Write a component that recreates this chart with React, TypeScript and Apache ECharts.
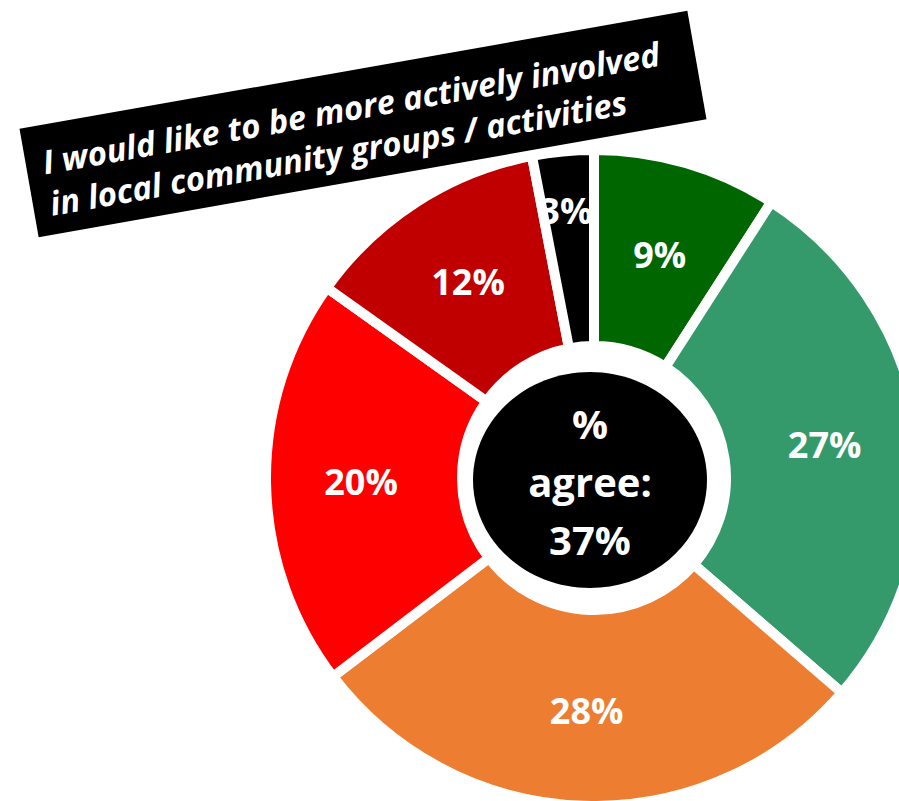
import React, { useEffect, useRef } from "react";
import * as echarts from "echarts";

const categories = ["Strongly agree", "Agree", "Neither", "Disagree", "Strongly disagree", "Don't know"];
const values = [9, 27, 28, 20, 12, 3];
const colors = ["#006600", "#359A6B", "#ED7D31", "#FF0000", "#C00000", "#000000"];
const titleLines = ["I would like to be more actively involved", "in local community groups / activities"];
const centerLines = ["%", "agree:", "37%"];

export default function App() {
  const ref = useRef<HTMLDivElement>(null);
  useEffect(() => {
    if (!ref.current) return;
    const chart = echarts.init(ref.current, undefined, { renderer: "svg" });
    const data = values.map((v, i) => {
      const item: any = { name: categories[i], value: v, itemStyle: { color: colors[i] } };
      if (i === 5) item.label = { formatter: "{c}%\n ", lineHeight: 72, padding: [0, 12, 0, 0] };
      return item;
    });
    chart.setOption({
      animation: false,
      backgroundColor: "#ffffff",
      series: [
        {
          type: "pie",
          center: [594, 478],
          radius: [132, 328],
          startAngle: 90,
          clockwise: true,
          avoidLabelOverlap: false,
          itemStyle: { borderColor: "#ffffff", borderWidth: 10 },
          label: {
            show: true,
            position: "inside",
            formatter: "{c}%",
            color: "#ffffff",
            fontFamily: "Open Sans",
            fontWeight: "bold",
            fontSize: 36,
          },
          labelLine: { show: false },
          emphasis: { disabled: true },
          data,
        },
      ],
      graphic: [
        {
          type: "ellipse",
          shape: { cx: 590, cy: 480, rx: 117, ry: 108 },
          style: { fill: "#000000" },
          z: 10,
        },
        {
          type: "text",
          x: 590,
          y: 481,
          z: 11,
          style: {
            text: centerLines.join("\n"),
            fill: "#ffffff",
            font: "bold 40px 'Open Sans'",
            lineHeight: 58,
            align: "center",
            verticalAlign: "middle",
          },
        },
        {
          type: "group",
          x: 363,
          y: 124,
          rotation: (10 * Math.PI) / 180,
          z: 12,
          children: [
            {
              type: "rect",
              shape: { x: -339, y: -55, width: 678, height: 110 },
              style: { fill: "#000000" },
            },
            {
              type: "text",
              x: -322,
              y: 3,
              style: {
                text: titleLines.join("\n"),
                fill: "#ffffff",
                font: "italic bold 33px 'Open Sans'",
                lineHeight: 42,
                align: "left",
                verticalAlign: "middle",
              },
            },
          ],
        },
      ],
    });
    return () => chart.dispose();
  }, []);
  return (
    <div
      ref={ref}
      style={{ position: "fixed", left: 0, top: 0, width: 899, height: 801 }}
    />
  );
}
